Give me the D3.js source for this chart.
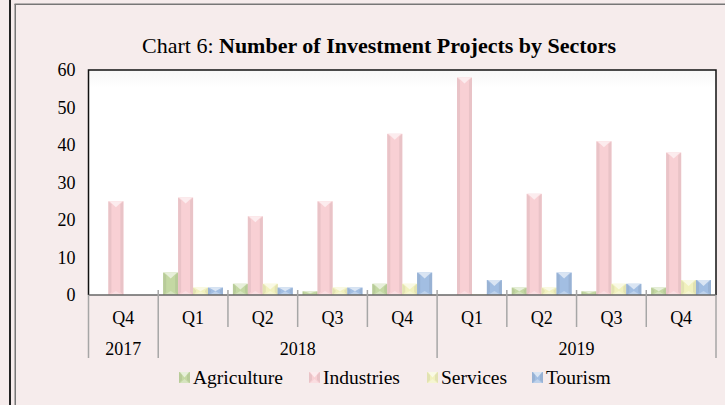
<!DOCTYPE html>
<html>
<head>
<meta charset="utf-8">
<script src="https://cdn.jsdelivr.net/npm/d3@7"></script>
<style>
  html, body { margin: 0; padding: 0; background: #F6ECEC; }
  svg { display: block; }
  text { font-family: "Liberation Serif", "Times New Roman", serif; fill: #000; }
</style>
</head>
<body>
<svg id="chart" width="725" height="405"></svg>
<script>
const quarters = ["Q4", "Q1", "Q2", "Q3", "Q4", "Q1", "Q2", "Q3", "Q4"];
const years = ["2017", "2018", "2018", "2018", "2018", "2019", "2019", "2019", "2019"];
const seriesNames = ["Agriculture", "Industries", "Services", "Tourism"];
const agriculture = [0, 6, 3, 1, 3, 0, 2, 1, 2];
const industries = [25, 26, 21, 25, 43, 58, 27, 41, 38];
const services = [0, 2, 3, 2, 3, 0.2, 2, 3, 4];
const tourism = [0, 2, 2, 2, 6, 4, 6, 3, 4];
const yTicks = [0, 10, 20, 30, 40, 50, 60];
const seriesColors = ["#C4D8A3", "#F8D0D4", "#F1F1BE", "#A2BEE2"];

const seriesValues = [agriculture, industries, services, tourism];
const svg = d3.select("#chart");

// outer frame lines
svg.append("rect").attr("x", 9).attr("y", 0).attr("width", 2).attr("height", 405).attr("fill", "#222");
svg.append("rect").attr("x", 14.5).attr("y", 4).attr("width", 1.5).attr("height", 401).attr("fill", "#777");
svg.append("rect").attr("x", 14.5).attr("y", 3.5).attr("width", 711).attr("height", 1.5).attr("fill", "#777");

const plot = { left: 88.5, right: 716, top: 70, bottom: 295 };

// title
const title = svg.append("text").attr("x", 142).attr("y", 53).attr("font-size", 22);
title.append("tspan").text("Chart 6: ");
title.append("tspan").attr("font-weight", "bold").text("Number of Investment Projects by Sectors");

// plot area background
const defs = svg.append("defs");
const grad = defs.append("linearGradient").attr("id", "pbg").attr("x1", 0).attr("y1", 0).attr("x2", 0).attr("y2", 1);
grad.append("stop").attr("offset", "0").attr("stop-color", "#F7F7F7");
grad.append("stop").attr("offset", "0.08").attr("stop-color", "#FFFFFF");
grad.append("stop").attr("offset", "1").attr("stop-color", "#FFFFFF");
svg.append("rect").attr("x", plot.left).attr("y", plot.top)
  .attr("width", plot.right - plot.left).attr("height", plot.bottom - plot.top)
  .attr("fill", "url(#pbg)");

const idx = d3.range(quarters.length);
const x0 = d3.scaleBand().domain(idx).range([plot.left, plot.right]).padding(0);
const x1 = d3.scaleBand().domain(seriesNames).range([5, x0.bandwidth() - 5]).padding(0);
const y = d3.scaleLinear().domain([0, 60]).range([plot.bottom, plot.top]);

function bevel(g, bx, by, w, h, color) {
  const c = d3.color(color);
  const top = d3.interpolateRgb(color, "#ffffff")(0.6);
  const bot = d3.interpolateRgb(color, "#ffffff")(0.3);
  const side = c.darker(0.18).formatHex();
  g.append("rect").attr("x", bx).attr("y", by).attr("width", w).attr("height", h).attr("fill", color);
  const s = Math.min(3, w / 2, h / 2);
  g.append("polygon").attr("fill", side)
    .attr("points", [[bx, by], [bx + s, by + s], [bx + s, by + h - s], [bx, by + h]].join(" "));
  g.append("polygon").attr("fill", side)
    .attr("points", [[bx + w, by], [bx + w - s, by + s], [bx + w - s, by + h - s], [bx + w, by + h]].join(" "));
  const t = Math.min(h / 2, 6);
  g.append("polygon").attr("fill", top)
    .attr("points", [[bx + 1, by], [bx + w - 1, by], [bx + w / 2, by + t]].join(" "));
  const b = Math.min(h / 2, 4);
  g.append("polygon").attr("fill", bot)
    .attr("points", [[bx + 1, by + h], [bx + w - 1, by + h], [bx + w / 2, by + h - b]].join(" "));
}

const bars = svg.append("g");
seriesNames.forEach((name, si) => {
  seriesValues[si].forEach((v, i) => {
    if (v <= 0) return;
    const bx = x0(i) + x1(name);
    const by = y(v);
    bevel(bars.append("g"), bx, by, x1.bandwidth(), y(0) - by, seriesColors[si]);
  });
});

// plot border
svg.append("path")
  .attr("d", `M${plot.left},${plot.bottom}V${plot.top}H${plot.right}V${plot.bottom}`)
  .attr("fill", "none").attr("stroke", "#111").attr("stroke-width", 1.5);

// y axis labels
const yAxis = d3.axisLeft(y).tickValues(yTicks).tickSize(0).tickPadding(13);
const ya = svg.append("g").attr("transform", `translate(${plot.left},0)`).call(yAxis);
ya.select(".domain").remove();
ya.selectAll("text").attr("font-size", 18).attr("font-family", "Liberation Serif, Times New Roman, serif").attr("fill", "#000");

// category axis
const axisG = svg.append("g");
axisG.append("line").attr("x1", plot.left).attr("x2", plot.right)
  .attr("y1", plot.bottom).attr("y2", plot.bottom).attr("stroke", "#666").attr("stroke-width", 1.5);

// separators
idx.concat([quarters.length]).forEach(i => {
  const xx = i < quarters.length ? x0(i) : plot.right;
  const isYearEdge = i === 0 || i === quarters.length || years[i] !== years[i - 1];
  axisG.append("line").attr("x1", xx).attr("x2", xx)
    .attr("y1", plot.bottom - (i === 0 || i === quarters.length ? 0 : 5))
    .attr("y2", isYearEdge ? 358 : 327)
    .attr("stroke", "#A6A6A6").attr("stroke-width", 1.5);
});

axisG.selectAll(".q").data(idx).join("text")
  .attr("x", i => x0(i) + x0.bandwidth() / 2).attr("y", 324)
  .attr("text-anchor", "middle").attr("font-size", 18).text(i => quarters[i]);

const yearGroups = d3.groups(idx, i => years[i]);
axisG.selectAll(".yr").data(yearGroups).join("text")
  .attr("x", d => (x0(d[1][0]) + x0(d[1][d[1].length - 1]) + x0.bandwidth()) / 2)
  .attr("y", 355).attr("text-anchor", "middle").attr("font-size", 18).text(d => d[0]);

// legend
const legendX = [179, 309, 427, 532];
const lg = svg.append("g");
seriesNames.forEach((name, si) => {
  bevel(lg.append("g"), legendX[si], 372, 11, 11, seriesColors[si]);
  lg.append("text").attr("x", legendX[si] + 14).attr("y", 384)
    .attr("font-size", 19.5).text(name);
});
</script>
</body>
</html>
